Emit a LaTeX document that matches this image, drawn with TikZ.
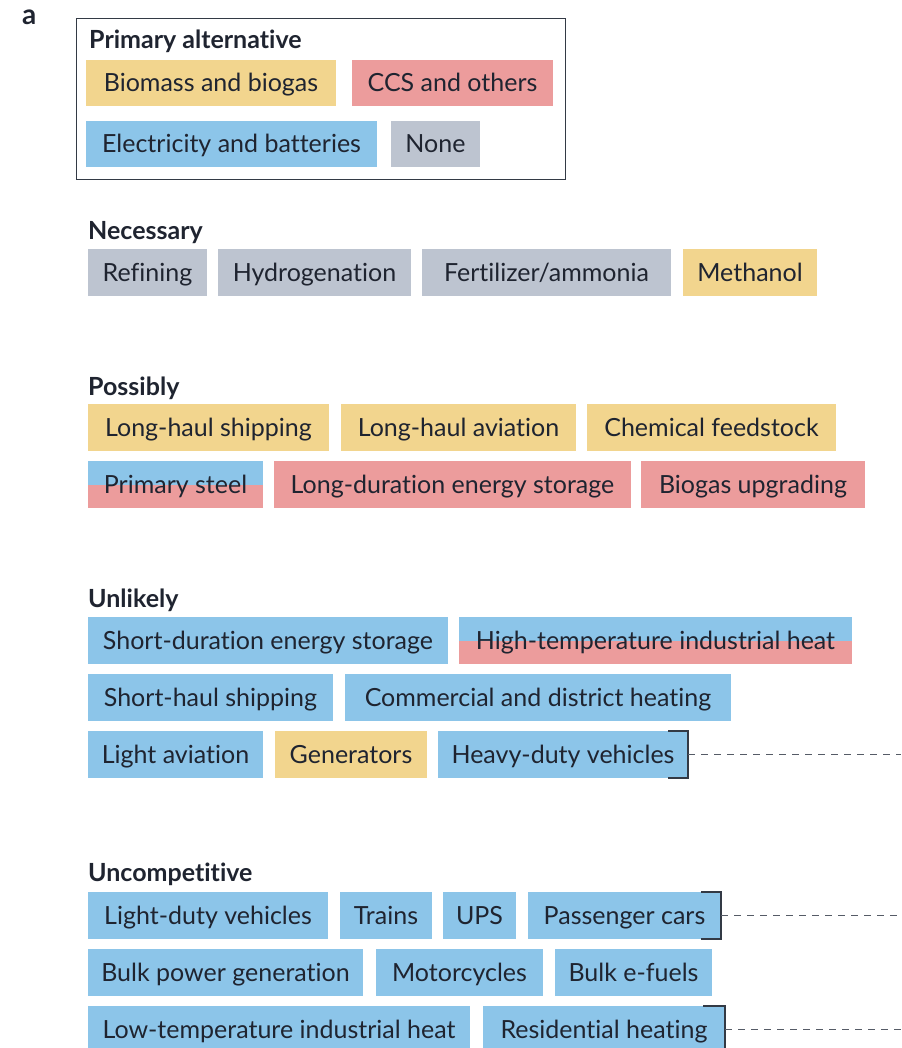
\documentclass[tikz,border=0pt]{standalone}
\usepackage{fontspec}
\setmainfont{Lato}[Ligatures={NoCommon}]
\definecolor{cyel}{HTML}{F2D58E}
\definecolor{cred}{HTML}{EC9C9C}
\definecolor{cblue}{HTML}{8CC5E9}
\definecolor{cgray}{HTML}{BDC4D0}
\definecolor{txt}{HTML}{1F2430}
\definecolor{brk}{HTML}{333A45}
\definecolor{dsh}{HTML}{555B66}
\begin{document}
\begin{tikzpicture}[x=1pt,y=1pt,
  box/.style={anchor=north west, minimum height=47pt, inner sep=0pt, outer sep=0pt,
    text height=20pt, text depth=3pt,
    font=\fontsize{25}{28}\selectfont, text=txt},
  lbox/.style={box, minimum height=46pt},
  hdr/.style={anchor=base west, inner sep=0pt, font=\fontsize{25}{28}\selectfont\bfseries, text=txt},
  split/.style={fill=cred, path picture={\fill[cblue] (path picture bounding box.north west) rectangle (path picture bounding box.east);}},
  bracket/.style={draw=brk, line width=1.3pt},
  dline/.style={draw=dsh, line width=1pt, dash pattern=on 7pt off 6pt}]
\useasboundingbox (0,0) rectangle (901,-1048);
\node[anchor=base west, inner sep=0pt, font=\fontsize{28}{30}\selectfont\bfseries, text=txt] (lab) at (22,-25) {a};
% legend
\node[draw=brk, line width=1pt, anchor=north west, minimum width=489pt, minimum height=161pt, inner sep=0pt] (legend) at (76,-18) {};
\node[hdr] (ptitle) at (89,-48.5) {Primary alternative};
\node[lbox, fill=cyel, minimum width=250pt] (lbio) at (86,-60) {Biomass and biogas};
\node[lbox, fill=cred, minimum width=201pt] (lccs) at (352,-60) {CCS and others};
\node[lbox, fill=cblue, minimum width=291pt] (lel) at (86,-121) {Electricity and batteries};
\node[lbox, fill=cgray, minimum width=89pt] (lnone) at (391,-121) {None};
% Necessary
\node[hdr] (hnec) at (88,-240) {Necessary};
\node[box, fill=cgray, minimum width=119pt] (refin) at (88,-249) {Refining};
\node[box, fill=cgray, minimum width=193pt] (hydro) at (218,-249) {Hydrogenation};
\node[box, fill=cgray, minimum width=249pt] (fert) at (422,-249) {Fertilizer/ammonia};
\node[box, fill=cyel, minimum width=134pt] (meth) at (683,-249) {Methanol};
% Possibly
\node[hdr] (hpos) at (88,-395) {Possibly};
\node[box, fill=cyel, minimum width=241pt] (lhs) at (88,-404) {Long-haul shipping};
\node[box, fill=cyel, minimum width=235pt] (lha) at (341,-404) {Long-haul aviation};
\node[box, fill=cyel, minimum width=249pt] (chem) at (587,-404) {Chemical feedstock};
\node[box, split, minimum width=175pt] (steel) at (88,-461) {Primary steel};
\node[box, fill=cred, minimum width=357pt] (lds) at (274,-461) {Long-duration energy storage};
\node[box, fill=cred, minimum width=224pt] (bgu) at (641,-461) {Biogas upgrading};
% Unlikely
\node[hdr] (hunl) at (88,-607) {Unlikely};
\node[box, fill=cblue, minimum width=360pt] (sds) at (88,-617) {Short-duration energy storage};
\node[box, split, minimum width=393pt] (hti) at (459,-617) {High-temperature industrial heat};
\node[box, fill=cblue, minimum width=245pt] (shs) at (88,-674) {Short-haul shipping};
\node[box, fill=cblue, minimum width=386pt] (cdh) at (345,-674) {Commercial and district heating};
\node[box, fill=cblue, minimum width=175pt] (la) at (88,-731) {Light aviation};
\node[box, fill=cyel, minimum width=152pt] (gen) at (275,-731) {Generators};
\node[box, fill=cblue, minimum width=250pt] (hdv) at (438,-731) {Heavy-duty vehicles};
% Uncompetitive
\node[hdr] (hunc) at (88,-881) {Uncompetitive};
\node[box, fill=cblue, minimum width=240pt] (ldv) at (88,-892) {Light-duty vehicles};
\node[box, fill=cblue, minimum width=92pt] (trains) at (340,-892) {Trains};
\node[box, fill=cblue, minimum width=73pt] (ups) at (443,-892) {UPS};
\node[box, fill=cblue, minimum width=193pt] (pc) at (528,-892) {Passenger cars};
\node[box, fill=cblue, minimum width=275pt] (bpg) at (88,-949) {Bulk power generation};
\node[box, fill=cblue, minimum width=167pt] (moto) at (376,-949) {Motorcycles};
\node[box, fill=cblue, minimum width=157pt] (bef) at (555,-949) {Bulk e-fuels};
\node[box, fill=cblue, minimum width=382pt] (lti) at (88,-1006) {Low-temperature industrial heat};
\node[box, fill=cblue, minimum width=242pt] (rh) at (483,-1006) {Residential heating};
% brackets and dashed leaders
\coordinate (e1) at (901,-754.5);
\coordinate (e2) at (901,-915.5);
\coordinate (e3) at (901,-1029.5);
\draw[bracket] ([xshift=-20pt]hdv.north east) -- (hdv.north east) -- (hdv.south east) -- ([xshift=-20pt]hdv.south east);
\draw[dline] (hdv.east) -- (e1);
\draw[bracket] ([xshift=-20pt]pc.north east) -- (pc.north east) -- (pc.south east) -- ([xshift=-20pt]pc.south east);
\draw[dline] (pc.east) -- (e2);
\draw[bracket] ([xshift=-22pt]rh.north east) -- (rh.north east) -- (rh.south east);
\draw[dline] (rh.east) -- (e3);
\end{tikzpicture}
\end{document}
